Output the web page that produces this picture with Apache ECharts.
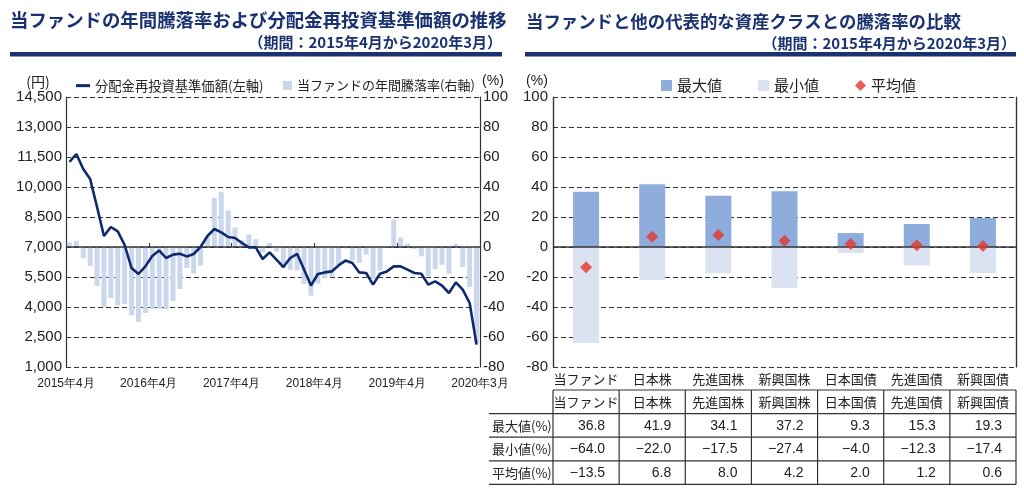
<!DOCTYPE html>
<html><head><meta charset="utf-8">
<script src="https://cdn.jsdelivr.net/npm/echarts/dist/echarts.min.js"></script>
<style>html,body{margin:0;padding:0;background:#fff;}#c{width:1024px;height:499px;}</style>
</head><body><div id="c"></div>
<script>
// ---- data ----
const monthTickLabels = ['2015年4月','2016年4月','2017年4月','2018年4月','2019年4月','2020年3月'];
const navValues = [11250,11650,10900,10400,9000,7550,8000,7780,7100,5950,
  5650,6030,6550,6830,6450,6620,6660,6530,6650,7000,
  7550,7900,7730,7500,7450,7200,6980,6980,6400,6730,
  6370,6000,6450,6660,5870,5070,5650,5730,5780,6080,
  6320,6200,5730,5700,5120,5660,5780,6030,6030,5870,
  5700,5660,5120,5280,5070,4700,5230,4870,4200,2120];
const annualReturns = [3.0,4.2,-7.5,-12.5,-26,-40,-34,-39,-38,-45.5,
  -50,-44,-41.5,-41.5,-41.5,-36,-28,-14,-17.5,-12.5,
  6.7,32.7,36.8,24.4,13,4.6,8.2,5.2,-3.5,2.7,
  -3,-14,-15.2,-15.5,-24.5,-32.4,-24.3,-20.7,-19.6,-12,
  -1,-8.9,-10.7,-5.1,-21.3,-15.6,-0.5,18.2,6.4,2.2,
  -1.3,-6.2,-19.6,-14.7,-11.8,-17.8,2.0,-13.3,-26.7,-64.0];
const assetClasses = ['当ファンド','日本株','先進国株','新興国株','日本国債','先進国債','新興国債'];
const maxValues = [36.8,41.9,34.1,37.2,9.3,15.3,19.3];
const minValues = [-64.0,-22.0,-17.5,-27.4,-4.0,-12.3,-17.4];
const avgValues = [-13.5,6.8,8.0,4.2,2.0,1.2,0.6];
const rowLabels = ['最大値(%)','最小値(%)','平均値(%)'];
const lineName = '分配金再投資基準価額(左軸)';
const barName = '当ファンドの年間騰落率(右軸)';

// ---- styles ----
const JP = '"Noto Sans CJK JP", sans-serif';
const NUM = '"Liberation Sans", Arial, sans-serif';
const NAVY = '#1b3270';
const dashed = {type:[5,3], color:'#333', width:1};
const fmtComma = v => String(v).replace(/\B(?=(\d{3})+(?!\d))/g, ',');
const fmtSigned = v => (v < 0 ? '\u2212' : '') + Math.abs(v).toFixed(1);

const chart = echarts.init(document.getElementById('c'), null, {renderer:'canvas'});

const option = {
  animation: false,
  backgroundColor: '#fff',
  grid: [
    {left:66, width:414, top:97, height:270, containLabel:false, outerBoundsMode:'none'},
    {left:553, width:463, top:97, height:270, containLabel:false, outerBoundsMode:'none'}
  ],
  legend: [
    {data:[{name:lineName, icon:'rect'}], left:76, top:79, itemWidth:14, itemHeight:3, itemGap:0,
     textStyle:{fontFamily:JP, fontSize:13.3, color:'#222'}, selectedMode:false, padding:0},
    {data:[{name:barName, icon:'rect'}], left:283, top:79, itemWidth:9, itemHeight:9,
     textStyle:{fontFamily:JP, fontSize:13, color:'#222'}, selectedMode:false, padding:0},
    {data:[{name:'最大値', icon:'rect'},{name:'最小値', icon:'rect'},{name:'平均値', icon:'diamond'}],
     left:661, top:78, itemWidth:11, itemHeight:11, itemGap:36,
     textStyle:{fontFamily:JP, fontSize:15, color:'#222'}, selectedMode:false, padding:0}
  ],
  xAxis: [
    {type:'value', gridIndex:0, min:0, max:60, interval:12,
     axisLine:{show:false}, splitLine:{show:false},
     axisTick:{show:true, inside:true, length:4, lineStyle:{color:'#333'}},
     axisLabel:{margin:11, fontFamily:NUM, fontSize:12, color:'#222', showMinLabel:true, showMaxLabel:true, hideOverlap:false,
       formatter: v => monthTickLabels[Math.round(v/12)]}},
    {type:'category', gridIndex:1, data:assetClasses, boundaryGap:true,
     axisLine:{show:false}, axisTick:{show:false},
     splitLine:{show:true, interval:(i)=> i===1, lineStyle:{color:'#333', width:1.2}},
     axisLabel:{margin:6, fontFamily:JP, fontSize:13, color:'#222', interval:0, hideOverlap:false}}
  ],
  yAxis: [
    {type:'value', gridIndex:0, position:'left', min:1000, max:14500, interval:1500,
     axisLine:{show:true, lineStyle:{color:'#333', width:1.2}}, axisTick:{show:false},
     splitLine:{show:true, lineStyle:dashed},
     axisLabel:{margin:4, fontFamily:NUM, fontSize:15, color:'#222', formatter:fmtComma, showMinLabel:true, showMaxLabel:true}},
    {type:'value', gridIndex:0, position:'right', min:-80, max:100, interval:20,
     axisLine:{show:true, lineStyle:{color:'#333', width:1.2}}, axisTick:{show:false},
     splitLine:{show:false},
     axisLabel:{margin:3, fontFamily:NUM, fontSize:15, color:'#222', showMinLabel:true, showMaxLabel:true}},
    {type:'value', gridIndex:1, position:'left', min:-80, max:100, interval:20,
     axisLine:{show:true, lineStyle:{color:'#333', width:1.2}}, axisTick:{show:false},
     splitLine:{show:true, lineStyle:dashed},
     axisLabel:{margin:5, fontFamily:NUM, fontSize:15, color:'#222', showMinLabel:true, showMaxLabel:true}},
    {type:'value', gridIndex:1, position:'right', min:-80, max:100, interval:20,
     axisLine:{show:true, lineStyle:{color:'#333', width:1.2}}, axisTick:{show:false},
     splitLine:{show:false}, axisLabel:{show:false}}
  ],
  series: [
    {name:barName, type:'bar', xAxisIndex:0, yAxisIndex:1, barWidth:5,
     itemStyle:{color:'#cad7ec'}, z:1,
     data: annualReturns.map((v,i)=>[i+0.5, v]),
     markLine:{silent:true, symbol:'none', label:{show:false},
       lineStyle:{type:'solid', color:'#333', width:1.5}, data:[{yAxis:0}]}},
    {name:lineName, type:'line', xAxisIndex:0, yAxisIndex:0, symbol:'none', z:5,
     lineStyle:{color:'#0f2a6b', width:2.6}, itemStyle:{color:'#0f2a6b'},
     data: navValues.map((v,i)=>[i+0.5, v])},
    {name:'最大値', type:'bar', xAxisIndex:1, yAxisIndex:2, barWidth:26,
     itemStyle:{color:'#8eaddc'}, z:2, data:maxValues,
     markLine:{silent:true, symbol:'none', label:{show:false},
       lineStyle:{type:'solid', color:'#333', width:1.5}, data:[{yAxis:0}]}},
    {name:'最小値', type:'bar', xAxisIndex:1, yAxisIndex:2, barWidth:26, barGap:'-100%',
     itemStyle:{color:'#dbe2f2'}, z:2, data:minValues},
    {name:'平均値', type:'scatter', xAxisIndex:1, yAxisIndex:2, symbol:'diamond', symbolSize:12,
     itemStyle:{color:'#e2372b'}, z:6, data:avgValues}
  ]
};
chart.setOption(option);

// ---- titles, units, table (graphic) ----
const g = [];
function txt(text, x, y, font, fill, align, valign){
  g.push({type:'text', silent:true, z:50, style:{text, x, y, font, fill:fill||'#222', textAlign:align||'left', textVerticalAlign:valign||'middle'}});
}
function line(x1,y1,x2,y2,stroke,w){
  g.push({type:'line', silent:true, z:50, shape:{x1,y1,x2,y2}, style:{stroke:stroke||'#333', lineWidth:w||1.2}});
}
// titles
txt('当ファンドの年間騰落率および分配金再投資基準価額の推移', 10, 20, 'bold 18.4px '+JP, NAVY);
txt('（期間：2015年4月から2020年3月）', 502, 42, 'bold 15px '+JP, NAVY, 'right');
g.push({type:'rect', silent:true, shape:{x:10, y:52, width:492, height:4.5}, style:{fill:NAVY}});
txt('当ファンドと他の代表的な資産クラスとの騰落率の比較', 526, 21, 'bold 17.4px '+JP, NAVY);
txt('（期間：2015年4月から2020年3月）', 1016, 43, 'bold 15px '+JP, NAVY, 'right');
g.push({type:'rect', silent:true, shape:{x:525, y:52, width:491, height:4.5}, style:{fill:NAVY}});
// axis units
txt('(円)', 38, 82, '14px '+JP, '#222', 'center');
txt('(%)', 493, 81, '14px '+NUM, '#222', 'center');
txt('(%)', 537, 81, '14px '+NUM, '#222', 'center');

// table built on the right chart's category scale
const centers = assetClasses.map((c,i)=>chart.convertToPixel({xAxisIndex:1}, i));
const colW = centers[1]-centers[0];
const bounds = centers.map(c=>c-colW/2).concat([centers[centers.length-1]+colW/2]);
const tTop = 390, rowH = 23.6, labelLeft = 489;
const rowsY = [0,1,2,3,4].map(k=>tTop+k*rowH);
line(bounds[0], rowsY[0], bounds[7], rowsY[0]);
for (let k=1;k<5;k++) line(labelLeft, rowsY[k], bounds[7], rowsY[k]);
bounds.forEach(b=>line(b, rowsY[0], b, rowsY[4]));
assetClasses.forEach((c,i)=>txt(c, centers[i], rowsY[0]+rowH/2+0.5, '13px '+JP, '#222', 'center'));
const tableRows = [maxValues, minValues, avgValues];
tableRows.forEach((arr,r)=>{
  const yc = rowsY[r+1]+rowH/2+0.5;
  txt(rowLabels[r], 492, yc, '13px '+JP, '#222', 'left');
  arr.forEach((v,i)=>txt(fmtSigned(v), bounds[i+1]-14, yc, '14px '+NUM, '#222', 'right'));
});
chart.setOption({graphic: g});
</script>
</body></html>
